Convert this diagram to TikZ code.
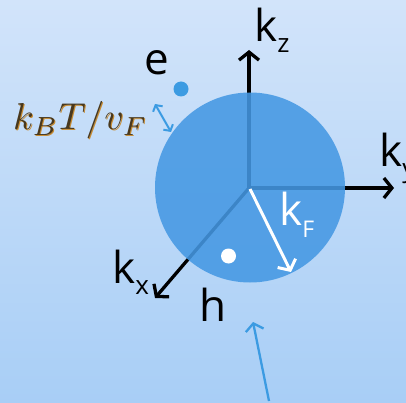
\documentclass[tikz,border=0pt]{standalone}
\usepackage{fontspec}
\newfontfamily\labelfont{Open Sans}
\usetikzlibrary{arrows.meta}
\definecolor{bgtop}{RGB}{210,228,250}
\definecolor{bgbot}{RGB}{168,206,246}
\definecolor{sphere}{RGB}{69,152,227}
\definecolor{accent}{RGB}{60,155,226}
\definecolor{mathbrown}{RGB}{72,56,30}
\definecolor{mathglow}{RGB}{200,140,50}
\tikzset{
  axis/.style={line width=3.3pt,black,-{Straight Barb[length=8pt,width=20pt,line width=3.3pt]}},
  radius arrow/.style={line width=3pt,white,-{Straight Barb[length=8pt,width=20pt,line width=3pt]}},
  bluearrow/.style={line width=2.3pt,accent,-{Straight Barb[length=7pt,width=18pt,line width=2.3pt]}},
  smallarrow/.style={line width=2pt,accent,{Straight Barb[length=4.5pt,width=11pt,line width=2pt]}-{Straight Barb[length=4.5pt,width=11pt,line width=2pt]}},
  lbl/.style={inner sep=0pt,anchor=base west,font=\labelfont\fontsize{44}{44}\selectfont},
  mathlbl/.style={inner sep=0pt,anchor=base west},
  dot/.style={circle,inner sep=0pt,minimum size=15pt}
}
\newcommand{\subz}[1]{\raisebox{-11pt}{\fontsize{26}{26}\selectfont #1}}
\begin{document}
\begin{tikzpicture}[x=1pt,y=-1pt]
\useasboundingbox (0,0) rectangle (406,403);
\shade[top color=bgtop,bottom color=bgbot] (0,0) rectangle (406,403);
% axes
\coordinate (O) at (249,188);
\coordinate (kzend) at (249,50);
\coordinate (kyend) at (394,188);
\coordinate (kxend) at (155,298);
\draw[axis] (O) -- (kzend);
\draw[axis] (O) -- (kyend);
\draw[axis] (O) -- (kxend);
% sphere
\node[circle,fill=sphere,fill opacity=0.88,minimum size=190pt,inner sep=0pt] (fermi) at (250,187.5) {};
% k_F arrow
\coordinate (kFend) at (291,272);
\draw[radius arrow] (250,189) -- (kFend);
% dots
\node[dot,fill=accent] (edot) at (181,89) {};
\node[dot,fill=white] (hdot) at (228.5,256) {};
% labels
\node[lbl] (kz) at (254,42) {k\subz{z}};
\node[lbl] (ky) at (379,167) {k\subz{y}};
\node[lbl] (kx) at (112,283) {k\subz{x}};
\node[lbl,white] (kF) at (279,225) {k\raisebox{-12pt}{\fontsize{23}{23}\selectfont F}};
\node[lbl] (e) at (144,75) {e};
\node[lbl] (h) at (199,321) {h};
% thermal label
\node[mathlbl,text=mathglow] (kbtglow) at (14,131) {\scalebox{3.75}{$k_BT/v_F$}};
\node[mathlbl,text=mathbrown] (kbt) at (13,130) {\scalebox{3.75}{$k_BT/v_F$}};
% small double arrow
\coordinate (sa1) at (155,104);
\coordinate (sa2) at (171,132);
\draw[smallarrow] (sa1) -- (sa2);
% bottom arrow
\coordinate (btail) at (269,401);
\coordinate (btip) at (253,322);
\draw[bluearrow] (btail) -- (btip);
\end{tikzpicture}
\end{document}
